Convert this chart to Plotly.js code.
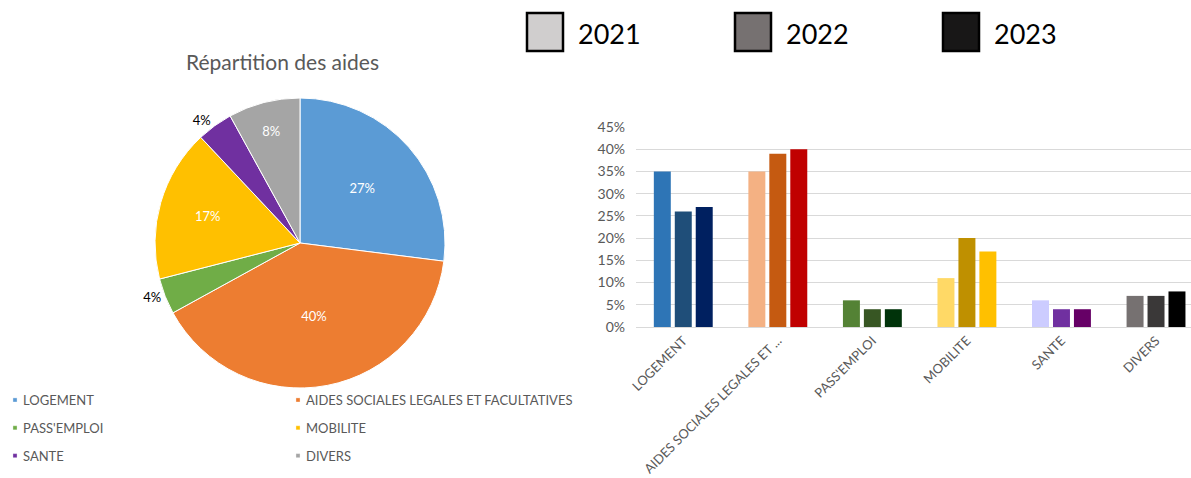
<!DOCTYPE html>
<html><head><meta charset="utf-8">
<script src="https://cdn.plot.ly/plotly-3.0.1.min.js"></script>
<style>html,body{margin:0;padding:0;background:#fff}#chart{width:1191px;height:478px}</style>
</head><body><div id="chart"></div>
<script>
// ---- data ----
const pieTitle = "Répartition des aides";
const pieLabels = ["LOGEMENT", "AIDES SOCIALES LEGALES ET FACULTATIVES", "PASS'EMPLOI", "MOBILITE", "SANTE", "DIVERS"];
const pieValues = [27, 40, 4, 17, 4, 8];
const pieColors = ["#5B9BD5", "#ED7D31", "#70AD47", "#FFC000", "#7030A0", "#A5A5A5"];

const barCategories = ["LOGEMENT", "AIDES SOCIALES LEGALES ET ...", "PASS'EMPLOI", "MOBILITE", "SANTE", "DIVERS"];
const years = ["2021", "2022", "2023"];
const values2021 = [35, 35, 6, 11, 6, 7];
const values2022 = [26, 39, 4, 20, 4, 7];
const values2023 = [27, 40, 4, 17, 4, 8];
const colors2021 = ["#2E75B6", "#F4B183", "#548235", "#FFD966", "#CCCCFF", "#767171"];
const colors2022 = ["#1F4E79", "#C55A11", "#375623", "#BF9000", "#7030A0", "#3A3838"];
const colors2023 = ["#002060", "#C00000", "#00330A", "#FFC000", "#660066", "#000000"];
const yearSwatches = ["#D0CECE", "#767171", "#181717"];
const yTickVals = [0, 5, 10, 15, 20, 25, 30, 35, 40, 45];
const yTickText = ["0%", "5%", "10%", "15%", "20%", "25%", "30%", "35%", "40%", "45%"];

// ---- layout helpers ----
const W = 1191, H = 478;
const px = v => v / W;
const py = v => 1 - v / H;
const FONT = "Lato, 'Open Sans', sans-serif";
const GREY = "#595959";

const pie = {
  type: "pie",
  labels: pieLabels,
  values: pieValues,
  sort: false,
  direction: "clockwise",
  marker: {colors: pieColors, line: {color: "#ffffff", width: 1}},
  texttemplate: "%{percent:.0%}",
  textposition: ["inside", "inside", "outside", "inside", "outside", "inside"],
  insidetextorientation: "horizontal",
  insidetextfont: {color: "#ffffff", size: 13, family: FONT},
  outsidetextfont: {color: "#000000", size: 13, family: FONT},
  domain: {x: [px(150), px(450)], y: [py(388), py(98)]},
  hoverinfo: "label+percent",
  showlegend: true
};

const valueSets = [values2021, values2022, values2023];
const colorSets = [colors2021, colors2022, colors2023];
const bars = years.map((yr, i) => ({
  type: "bar",
  name: yr,
  x: barCategories,
  y: valueSets[i],
  marker: {color: colorSets[i]},
  xaxis: "x",
  yaxis: "y",
  showlegend: false,
  hovertemplate: "%{x} " + yr + ": %{y}%<extra></extra>"
}));

const swatchX = [527, 735, 943];
const shapes = years.map((yr, i) => ({
  type: "rect", xref: "paper", yref: "paper",
  x0: px(swatchX[i]), x1: px(swatchX[i] + 36),
  y0: py(51), y1: py(13),
  fillcolor: yearSwatches[i],
  line: {color: "#000000", width: 2.5}
}));
const annotations = years.map((yr, i) => ({
  xref: "paper", yref: "paper",
  x: px(swatchX[i] + 49), y: py(33),
  xanchor: "left", yanchor: "middle",
  text: yr, showarrow: false,
  font: {size: 27, color: "#000000", family: FONT}
}));
annotations.push({
  xref: "paper", yref: "paper",
  x: px(282), y: py(62), xanchor: "center", yanchor: "middle",
  text: pieTitle, showarrow: false,
  font: {size: 21, color: GREY, family: FONT}
});

const layout = {
  width: W, height: H,
  margin: {l: 0, r: 0, t: 0, b: 0, autoexpand: false},
  paper_bgcolor: "#ffffff",
  plot_bgcolor: "#ffffff",
  font: {family: FONT, color: GREY},
  barmode: "group",
  bargap: 0.335,
  bargroupgap: 0.19,
  xaxis: {
    domain: [px(636), 1],
    type: "category",
    range: [-0.5, 5.37],
    tickangle: -45,
    tickfont: {size: 13, color: GREY, family: FONT},
    showgrid: false,
    showline: true,
    linecolor: "#D9D9D9",
    ticks: ""
  },
  yaxis: {
    domain: [py(327), py(127)],
    range: [0, 45],
    tickvals: yTickVals,
    ticktext: yTickText,
    tickfont: {size: 14, color: GREY, family: FONT},
    ticklabelstandoff: 10,
    gridcolor: "#D9D9D9",
    showline: false,
    zeroline: false,
    ticks: ""
  },
  showlegend: true,
  legend: {
    orientation: "h",
    x: -17 / W, xanchor: "left",
    y: py(385), yanchor: "top",
    entrywidth: 238,
    entrywidthmode: "pixels",
    traceorder: "normal",
    font: {size: 13, color: GREY, family: FONT},
    bgcolor: "rgba(0,0,0,0)"
  },
  shapes: shapes,
  annotations: annotations
};

const gd = document.getElementById("chart");
Plotly.newPlot(gd, [pie].concat(bars), layout, {displayModeBar: false, staticPlot: true}).then(() => {
  // legend cosmetics: no clipping of the long label, smaller swatches, wider row spacing
  gd.querySelectorAll(".legend .scrollbox").forEach(s => s.removeAttribute("clip-path"));
  gd.querySelectorAll(".legend .legendpoints path").forEach(p => {
    p.setAttribute("transform", "translate(32,0) scale(0.34)");
  });
  const items = Array.from(gd.querySelectorAll(".legend .traces"));
  const pos = items.map(t => {
    const m = /translate\(\s*([-\d.e]+)[ ,]+([-\d.e]+)\s*\)/.exec(t.getAttribute("transform") || "");
    return m ? [parseFloat(m[1]), parseFloat(m[2])] : null;
  });
  const ys = pos.filter(Boolean).map(p => p[1]);
  if (ys.length) {
    const y0 = Math.min.apply(null, ys);
    items.forEach((t, i) => {
      if (!pos[i]) return;
      t.setAttribute("transform", "translate(" + pos[i][0] + "," + (y0 + (pos[i][1] - y0) * 1.4) + ")");
    });
  }
});
</script>
</body></html>
